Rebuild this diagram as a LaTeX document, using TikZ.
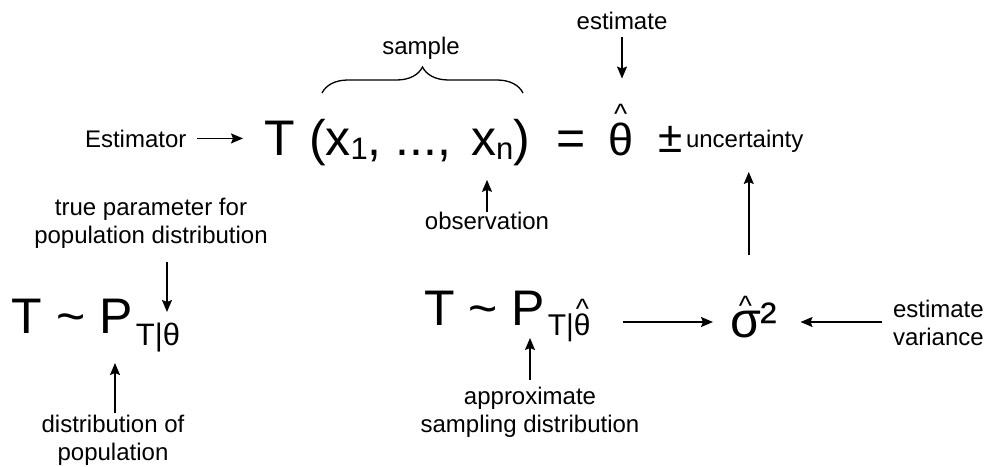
\documentclass[tikz,border=0pt]{standalone}
\usepackage{fontspec}
\setmainfont{Liberation Sans}
\usetikzlibrary{arrows.meta,decorations.pathreplacing}
\newcommand{\hatover}[3]{\setbox0\hbox{#3}\rlap{\makebox[\wd0]{\raisebox{#1}{\fontsize{#2}{#2}\selectfont\textasciicircum}}}\box0}
\newcommand{\lowsub}[3]{\raisebox{-#1}{\fontsize{#2}{#2}\selectfont #3}}
\tikzset{
  lbl/.style={font=\fontsize{24}{28}\selectfont, inner sep=0pt, outer sep=0pt},
  big/.style={font=\fontsize{50}{60}\selectfont, inner sep=0pt, outer sep=0pt},
  arr/.style={line width=1.5pt, -{Stealth[length=12pt,width=10pt,inset=2pt]}},
}
\begin{document}
\begin{tikzpicture}[x=1pt,y=-1pt]
\useasboundingbox (0,0) rectangle (990,466);
\fill[white] (0,0) rectangle (990,466);
% top equation
\node[lbl, anchor=base west] (est) at (85,147) {Estimator};
\node[big, anchor=base west] (Tm) at (264,155) {T};
\node[big, anchor=base west] (args) at (309,155) {(x\lowsub{4pt}{31}{1}, ..., \kern6pt x\lowsub{4pt}{31}{n})};
\node[big, anchor=base west] (eq) at (556,155) {=};
\node[anchor=base west, inner sep=0pt, font=\fontsize{45}{50}\selectfont] (th) at (608,155) {\hatover{32pt}{28}{θ}};
\node[anchor=base west, inner sep=0pt, font=\fontsize{44}{48}\selectfont] (pm) at (658,152) {±};
\node[lbl, anchor=base west] (unc) at (686,147) {uncertainty};
\node[lbl, anchor=base] (esttop) at (622,29) {estimate};
\node[lbl, anchor=base] (sample) at (421,54) {sample};
\draw[line width=1.3pt, decorate, decoration={brace, amplitude=26pt}] (322,93) -- (523,93);
\node[lbl, anchor=base] (obs) at (487,229) {observation};
% left bottom
\node[lbl, anchor=base, align=center] (tp) at (151,243) {true parameter for\\population distribution};
\node[big, anchor=base west] (PL) at (12,333) {T \textasciitilde{} P\kern3pt\lowsub{12pt}{31}{T|θ}};
\node[lbl, anchor=base, align=center] (dl) at (113,460) {distribution of\\population};
% right bottom
\node[big, anchor=base west] (PR) at (424,325) {T \textasciitilde{} P\kern3pt\lowsub{10pt}{30}{T|\hatover{17pt}{28}{θ}}};
\node[lbl, anchor=base, align=center] (asd) at (530,432) {approximate\\sampling distribution};
\node[big, anchor=base west] (sig) at (730,337) {\hatover{22pt}{28}{σ}²};
\node[lbl, anchor=base west, align=left] (ev) at (893,345) {estimate\\variance};
% connectors
\draw[arr, shorten <=11pt, shorten >=21pt] (est.east) -- (est.east -| Tm.west);
\draw[arr, shorten <=8pt, shorten >=25pt] (esttop.south) -- (esttop.south |- th.north);
\draw[arr, shorten >=14.5pt] (obs.north) -- (obs.north |- args.south);
\draw[arr, shorten <=14pt, shorten >=21pt] ([xshift=16pt]tp.south) -- ([xshift=16pt]tp.south |- PL.base);
\draw[arr, shorten <=2pt, shorten >=30pt] ([xshift=2pt]dl.north) -- ([xshift=2pt]dl.north |- PL.base);
\draw[arr, shorten <=7pt, shorten >=13pt] (asd.north) -- (asd.north |- PR.base);
\draw[arr, shorten <=32pt, shorten >=17pt] ([yshift=3pt]PR.base east) -- ([yshift=3pt]PR.base east -| sig.west);
\draw[arr, shorten <=11pt, shorten >=23pt] ([yshift=23pt]ev.base west) -- ([yshift=23pt]ev.base west -| sig.east);
\draw[arr, shorten <=41pt, shorten >=20pt] ([xshift=-5pt]sig.north) -- ([xshift=-5pt]sig.north |- unc.south);
\end{tikzpicture}
\end{document}
